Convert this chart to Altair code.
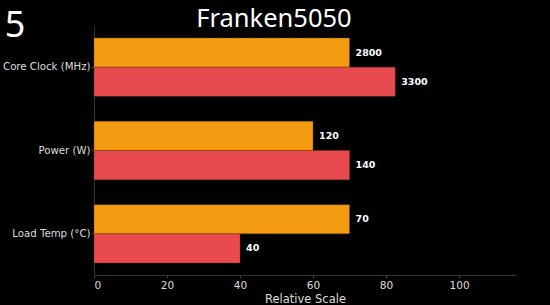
import altair as alt
import pandas as pd

categories = ["Core Clock (MHz)", "Power (W)", "Load Temp (°C)"]
series = ["A", "B"]
orange_raw = [2800, 120, 70]
red_raw = [3300, 140, 40]
orange_rel = [70, 60, 70]
red_rel = [82.5, 70, 40]
colors = ["#F39C12", "#E84A4F"]
corner_text = ["5"]

rows = []
for i, c in enumerate(categories):
    rows.append({"cat": c, "s": series[0], "v": orange_rel[i], "lbl": str(orange_raw[i])})
    rows.append({"cat": c, "s": series[1], "v": red_rel[i], "lbl": str(red_raw[i])})
df = pd.DataFrame(rows)

y = alt.Y("cat:N", sort=categories,
          scale=alt.Scale(paddingInner=0.3, paddingOuter=0.144),
          axis=alt.Axis(title=None, labelColor="#dddddd", labelFontSize=10.2,
                        labelFont="DejaVu Sans", domainColor="#333333",
                        tickColor="#444444", tickSize=3, labelPadding=1))
yoff = alt.YOffset("s:N", sort=series, scale=alt.Scale(paddingInner=0, paddingOuter=0))
x = alt.X("v:Q", scale=alt.Scale(domain=[0, 115.6], nice=False, zero=True),
          axis=alt.Axis(title="Relative Scale", values=[0, 20, 40, 60, 80, 100],
                        labelColor="#dddddd", labelFontSize=10.5, labelFont="DejaVu Sans",
                        titleColor="#dddddd", titleFontSize=11.5, titleFont="DejaVu Sans",
                        titleFontWeight="normal", domainColor="#333333",
                        tickColor="#444444", tickSize=3, grid=False, titlePadding=3,
                        labelPadding=2))

bars = alt.Chart(df).mark_bar(stroke="#7a3a10", strokeWidth=0.4).encode(
    y=y, yOffset=yoff, x=x,
    color=alt.Color("s:N", scale=alt.Scale(domain=series, range=colors), legend=None),
)
text = alt.Chart(df).mark_text(align="left", baseline="middle", dx=6, color="white",
                               fontWeight="bold", font="DejaVu Sans", fontSize=9.5).encode(
    y=y, yOffset=yoff, x="v:Q", text="lbl:N"
)
corner = alt.Chart(pd.DataFrame({"t": corner_text})).mark_text(
    align="center", baseline="alphabetic", color="white", fontSize=36, font="Noto Sans"
).encode(x=alt.value(-79), y=alt.value(11), text="t:N")

chart = (bars + text + corner).properties(
    width=422, height=249,
    background="black",
    autosize=alt.AutoSizeParams(type="none"),
    padding={"left": 94, "top": 26, "right": 34, "bottom": 30},
    title=alt.TitleParams("Franken5050", color="white", fontSize=25.5, font="Noto Sans",
                          fontWeight="normal", anchor="middle", offset=-2, dx=-31, dy=22),
).configure_view(stroke=None)

chart.save("out.html", embed_options={"renderer": "svg", "actions": False})
